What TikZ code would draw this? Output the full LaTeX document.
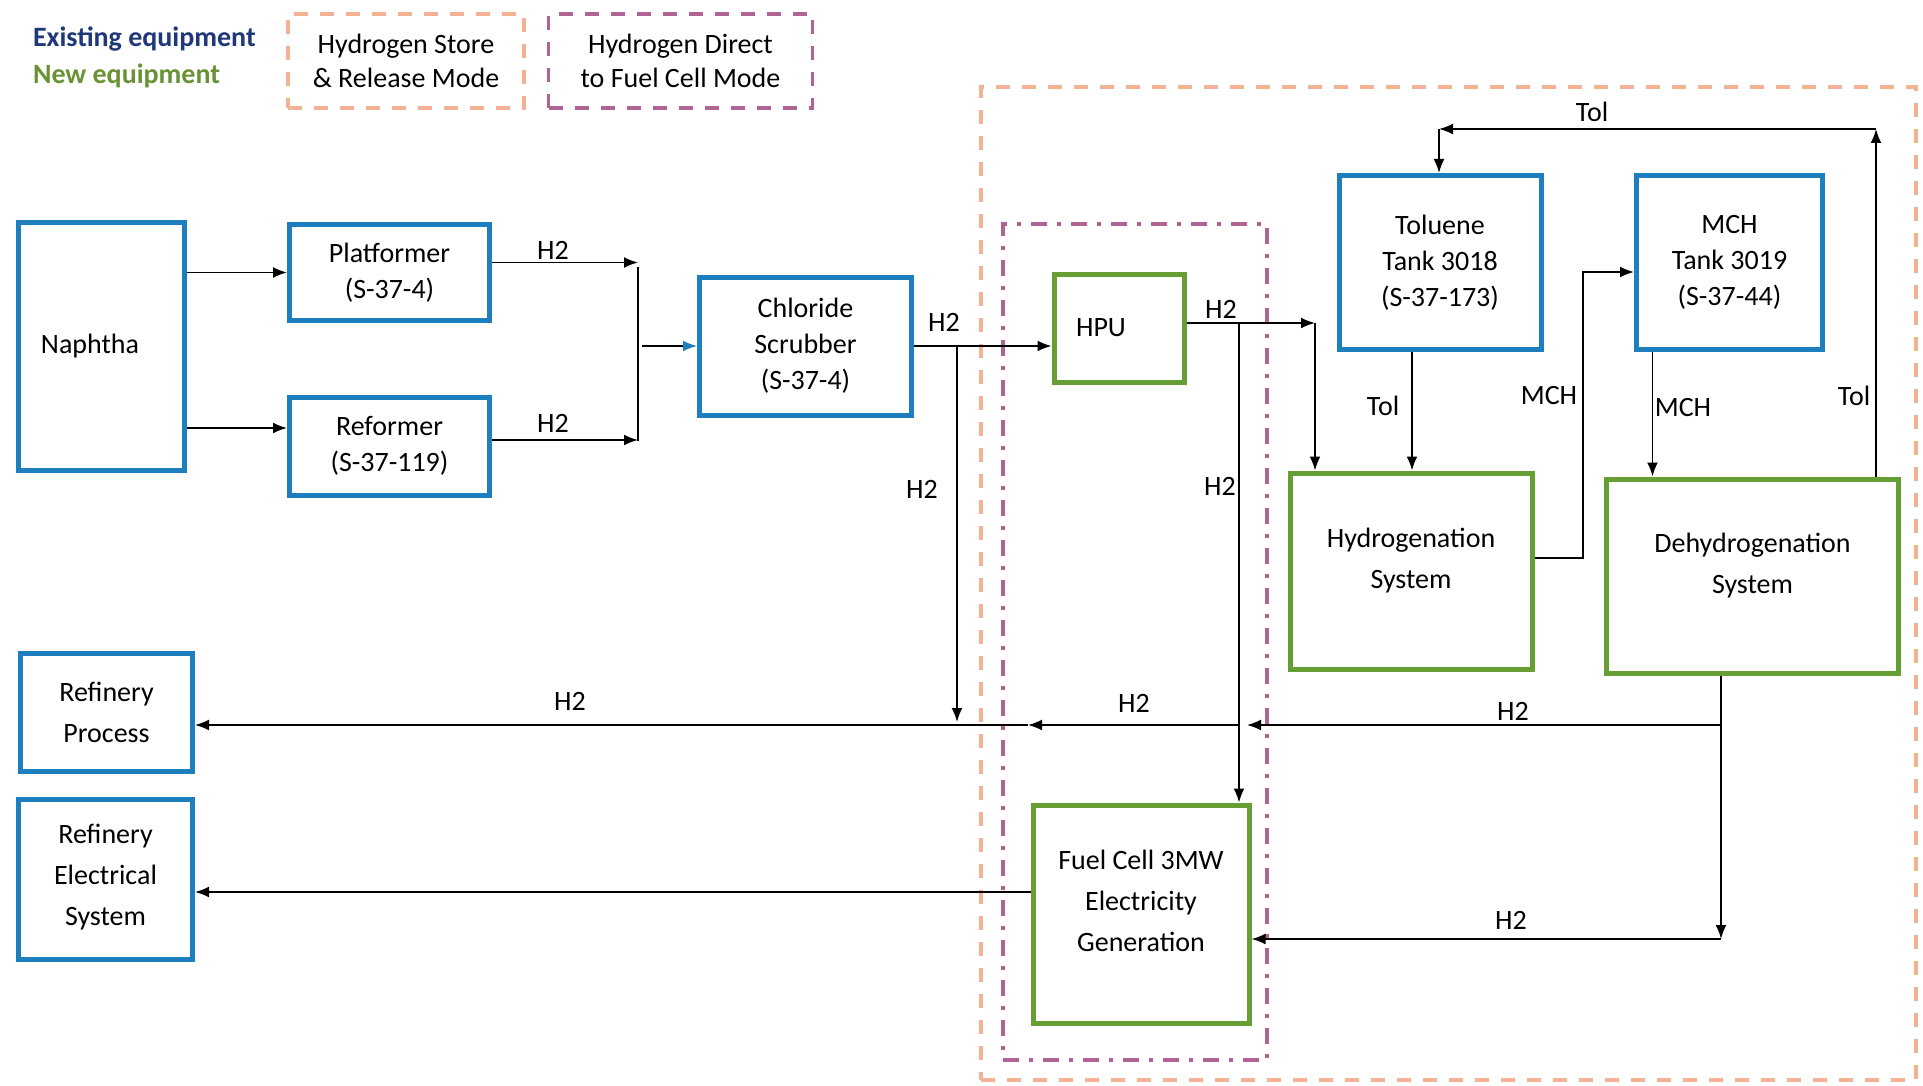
\documentclass[tikz,border=0pt]{standalone}
\usepackage{fontspec}
\setmainfont{Carlito}
\usepackage{tikz}
\usetikzlibrary{arrows.meta,positioning,fit}
\definecolor{oldblue}{RGB}{30,127,191}
\definecolor{newgreen}{RGB}{102,158,52}
\definecolor{navytxt}{RGB}{31,56,122}
\definecolor{greentxt}{RGB}{104,146,52}
\definecolor{storeorange}{RGB}{244,178,148}
\definecolor{directpink}{RGB}{176,100,148}

\begin{document}
\begin{tikzpicture}[x=0.5pt, y=-0.5pt, every node/.style={font=\fontsize{14}{18}\selectfont}, unit/.style={draw,align=center,inner sep=0pt,line width=2.5pt}, old/.style={unit,draw=oldblue}, new/.style={unit,draw=newgreen,font=\fontsize{14}{20.5}\selectfont}, store/.style={draw=storeorange,line width=1.8pt,dash pattern=on 7pt off 6pt,inner sep=0pt}, direct/.style={draw=directpink,line width=1.8pt,inner sep=0pt}, arr/.style={-{Latex[length=7pt,width=5.5pt]},line width=0.9pt}, lbl/.style={inner sep=1pt}]
\useasboundingbox (0,0) rectangle (1923,1086);
% legend
\node[anchor=west,text=navytxt,font=\fontsize{14}{17}\bfseries] (lgold) at (26,39) {Existing equipment};
\node[anchor=west,text=greentxt,font=\fontsize{14}{17}\bfseries] (lgnew) at (26,76) {New equipment};
\node[store,align=center,minimum width=118pt,minimum height=47pt,font=\fontsize{14}{17}\selectfont] (lgstore) at (406,61) {Hydrogen Store\\\& Release Mode};
\node[direct,dash pattern=on 7pt off 6pt,align=center,minimum width=132pt,minimum height=47pt,font=\fontsize{14}{17}\selectfont] (lgdirect) at (680.5,61) {Hydrogen Direct\\to Fuel Cell Mode};
% modes
\node[store,fit={(981,87)(1916,1080)}] (storezone) {};
\node[direct,dash pattern=on 8pt off 5pt on 2pt off 5pt,fit={(1003,224)(1267,1060)}] (directzone) {};
% equipment
\node[old,minimum width=83pt,minimum height=124pt] (naph) at (101,346) {Naphtha\hspace*{11pt}};
\node[old,minimum width=100pt,minimum height=48pt] (plat) at (389.5,272.5) {Platformer\\(S-37-4)};
\node[old,minimum width=100pt,minimum height=49pt] (refm) at (389.5,446) {Reformer\\(S-37-119)};
\node[old,minimum width=106pt,minimum height=69pt] (scrub) at (805.5,346) {Chloride\\Scrubber\\(S-37-4)};
\node[new,minimum width=65pt,minimum height=54pt] (hpu) at (1119,328) {HPU\hspace*{18pt}};
\node[old,minimum width=101pt,minimum height=87pt] (tol) at (1440,262.5) {Toluene\\Tank 3018\\(S-37-173)};
\node[old,minimum width=93pt,minimum height=87pt] (mch) at (1729.5,262.5) {MCH\\Tank 3019\\(S-37-44)};
\node[new,minimum width=121pt,minimum height=98pt] (hyd) at (1411,571) {Hydrogenation\\System\\[-8pt]};
\node[new,minimum width=146pt,minimum height=97pt] (dehyd) at (1752.5,576) {Dehydrogenation\\System\\[-8pt]};
\node[old,minimum width=86pt,minimum height=59pt,font=\fontsize{14}{20.5}\selectfont] (rproc) at (106.5,712.5) {Refinery\\Process};
\node[old,minimum width=87pt,minimum height=80pt,font=\fontsize{14}{20.5}\selectfont] (relec) at (105.5,879.5) {Refinery\\Electrical\\System\\[-16pt]};
\node[new,minimum width=108pt,minimum height=109pt] (fc) at (1141,914) {Fuel Cell 3MW\\Electricity\\Generation\\[-7pt]};
% junctions
\coordinate (jt) at (638,267); \coordinate (jb) at (638,441);
\coordinate (sb) at (957,722); \coordinate (hc) at (1315,323); \coordinate (hb) at (1239,725);
\coordinate (pj) at (1028,725); \coordinate (dj) at (1721,725); \coordinate (fj) at (1721,939);
\coordinate (hm1) at (1583,558); \coordinate (hm2) at (1583,272);
\coordinate (tl1) at (1876,129); \coordinate (tl2) at (1439,129);
% flows
\draw[arr] (naph.east |- plat.west) -- (plat.west); \draw[arr] ([yshift=9pt]naph.east |- refm.west) -- ([yshift=9pt]refm.west);
\draw[arr] ([yshift=5pt]plat.east) -- ([yshift=5pt]plat.east -| jt); \draw[arr] ([yshift=3pt]refm.east) -- ([yshift=3pt]refm.east -| jb);
\draw[line width=0.9pt] (jt) -- (jb);
\draw[arr,-{Latex[length=7pt,width=5.5pt,color=oldblue]}] ([xshift=2pt]jt |- scrub.west) -- (scrub.west);
\draw[arr] (scrub.east) -- (scrub.east -| hpu.west);
\draw[arr] (scrub.east -| sb) -- (sb);
\draw[arr] (hpu.east |- hc) -- (hc); \draw[arr] (hc) -- (hc |- hyd.north);
\draw[arr] (hb |- hc) -- (hb |- fc.north);
\draw[arr] ([xshift=-14pt]tol.south) -- ([xshift=-14pt]tol.south |- hyd.north);
\draw[arr] (hyd.east |- hm1) -- (hm1) -- (hm2) -- (mch.west |- hm2);
\draw[arr] ([xshift=-38.5pt]mch.south) -- ([xshift=-38.5pt]mch.south |- dehyd.north);
\draw[arr] (tl1 |- dehyd.north) -- (tl1); \draw[arr] (tl1) -- (tl2); \draw[arr] (tl2) -- (tl2 |- tol.north);
\draw[line width=0.9pt] (dj |- dehyd.south) -- (dj);
\draw[arr] (dj) -- ([xshift=4pt]hb); \draw[arr] (hb) -- (pj); \draw[arr] (pj) -- (rproc.east |- pj);
\draw[arr] (dj) -- (fj); \draw[arr] (fj) -- (fj -| fc.east);
\draw[arr] ([yshift=11pt]fc.west) -- ([yshift=11pt]fc.west -| relec.east);
% stream labels
\node[lbl] (h2plat) at (553,250) {H2}; \node[lbl] (h2ref) at (553,423) {H2};
\node[lbl] (h2scrub) at (944,322) {H2}; \node[lbl] (h2sb) at (922,489) {H2};
\node[lbl] (h2hpu) at (1221,309) {H2}; \node[lbl] (h2hb) at (1220,486) {H2};
\node[lbl] (toldown) at (1383,406) {Tol}; \node[lbl] (mchup) at (1549,396) {MCH};
\node[lbl] (mchdown) at (1683,408) {MCH}; \node[lbl] (tolup) at (1854,396) {Tol};
\node[lbl] (toltop) at (1592,112) {Tol};
\node[lbl] (h2dj) at (1513,711) {H2}; \node[lbl] (h2mid) at (1134,703) {H2};
\node[lbl] (h2proc) at (570,701) {H2}; \node[lbl] (h2fc) at (1511,920) {H2};
\end{tikzpicture}
\end{document}
